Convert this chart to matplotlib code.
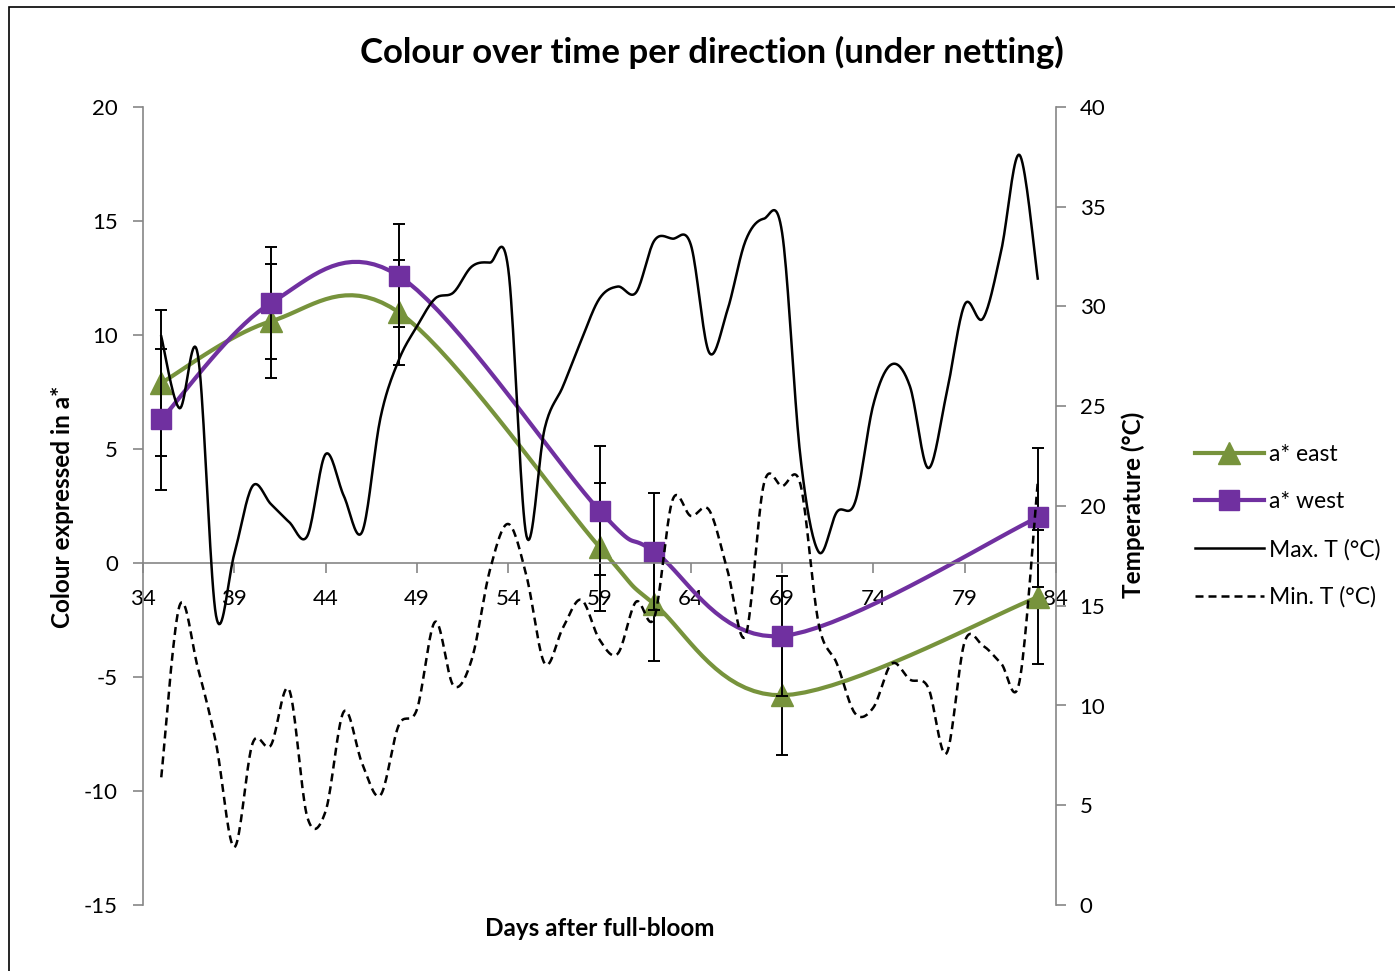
import numpy as np
import matplotlib
matplotlib.use("Agg")
import matplotlib.pyplot as plt
from matplotlib.lines import Line2D
from matplotlib.patches import Rectangle

plt.rcParams['font.family'] = ['Lato', 'DejaVu Sans']
plt.rcParams['axes.unicode_minus'] = False

# colour measurements (a*) per sampling day
days_a = [35, 41, 48, 59, 62, 69, 83]
a_east = [7.9, 10.6, 11.0, 0.7, -1.8, -5.8, -1.5]
a_east_err = [3.2, 2.5, 2.3, 2.8, 2.5, 2.6, 2.95]
a_west = [6.3, 11.4, 12.6, 2.3, 0.5, -3.2, 2.0]
a_west_err = [3.1, 2.45, 2.27, 2.83, 2.58, 2.63, 3.05]

# daily temperatures
days_t = list(range(35, 84))
max_t = [28.5, 24.9, 27.6, 14.5, 17.6, 21.0, 20.1, 19.2, 18.5, 22.6,
         20.5, 18.7, 24.4, 27.3, 29.0, 30.4, 30.7, 32.0, 32.2, 31.9,
         18.5, 23.9, 26.0, 28.3, 30.4, 31.0, 30.7, 33.3, 33.4, 33.1,
         27.7, 29.8, 33.3, 34.4, 33.7, 22.5, 17.7, 19.7, 20.2, 25.1,
         27.1, 26.0, 21.9, 25.6, 30.1, 29.4, 32.8, 37.6, 31.4]
min_t = [6.4, 15.0, 11.9, 8.1, 2.9, 8.1, 8.0, 10.8, 4.4, 4.7,
         9.7, 7.1, 5.5, 9.0, 9.8, 14.2, 11.0, 12.3, 16.8, 19.1,
         16.5, 12.1, 13.9, 15.3, 13.3, 12.6, 15.2, 14.4, 20.3, 19.5,
         19.8, 16.8, 13.5, 21.1, 21.0, 21.1, 14.1, 12.1, 9.6, 9.9,
         12.1, 11.3, 10.9, 7.6, 13.2, 13.0, 12.1, 11.2, 21.2]

x_ticks = list(range(34, 85, 5))
y_ticks = list(range(-15, 21, 5))
t_ticks = list(range(0, 41, 5))

GREEN = '#77933C'
PURPLE = '#7030A0'
GREY = '#868686'


def smooth(x, y, n=20):
    # excel style smoothed line (bezier through the points)
    pts = np.column_stack([x, y]).astype(float)
    p = np.vstack([pts[0], pts, pts[-1]])
    out = []
    t = np.linspace(0, 1, n)[:, None]
    for i in range(1, len(p) - 2):
        p0, p1, p2, p3 = p[i - 1], p[i], p[i + 1], p[i + 2]
        c1 = p1 + (p2 - p0) / 6
        c2 = p2 - (p3 - p1) / 6
        seg = (1 - t)**3 * p1 + 3 * (1 - t)**2 * t * c1 + 3 * (1 - t) * t**2 * c2 + t**3 * p2
        out.append(seg if i == 1 else seg[1:])
    s = np.vstack(out)
    return s[:, 0], s[:, 1]


W, H = 1395, 971
fig = plt.figure(figsize=(W / 100, H / 100), dpi=100)
fig.patches.append(Rectangle((9 / W, -0.1), 1.2, 1 - 7 / H + 0.1, transform=fig.transFigure,
                             fill=False, edgecolor='black', lw=1.2))

ax = fig.add_axes([143 / W, 1 - 905 / H, (1056 - 143) / W, (905 - 107) / H])
ax.set_xlim(34, 84)
ax.set_ylim(-15, 20)
ax.spines['bottom'].set_position(('data', 0))
ax.spines['top'].set_visible(False)
ax.spines['right'].set_visible(False)
for s in ['left', 'bottom']:
    ax.spines[s].set_color(GREY)
    ax.spines[s].set_linewidth(1.2)
ax.set_xticks(x_ticks)
ax.set_yticks(y_ticks)
ax.tick_params(colors=GREY, labelcolor='black', labelsize=16, length=7, width=1.2)
ax.tick_params(axis='y', pad=11)
ax.tick_params(axis='x', pad=12)

# a* series
xs, ys = smooth(days_a, a_east)
ax.plot(xs, ys, color=GREEN, lw=3)
ax.errorbar(days_a, a_east, yerr=a_east_err, fmt='none', ecolor='black',
            elinewidth=1.4, capsize=4.5, capthick=1.4)
ax.plot(days_a, a_east, ls='none', marker='^', ms=16, color=GREEN)
xs, ys = smooth(days_a, a_west)
ax.plot(xs, ys, color=PURPLE, lw=3)
ax.errorbar(days_a, a_west, yerr=a_west_err, fmt='none', ecolor='black',
            elinewidth=1.4, capsize=4.5, capthick=1.4)
ax.plot(days_a, a_west, ls='none', marker='s', ms=15, color=PURPLE)

# temperatures on secondary axis
ax2 = ax.twinx()
ax2.set_ylim(0, 40)
ax2.set_yticks(t_ticks)
for s in ['left', 'top', 'bottom']:
    ax2.spines[s].set_visible(False)
ax2.spines['right'].set_color(GREY)
ax2.spines['right'].set_linewidth(1.2)
ax2.tick_params(colors=GREY, labelcolor='black', labelsize=16, length=7, width=1.2, pad=10)
xs, ys = smooth(days_t, max_t)
ax2.plot(xs, ys, color='black', lw=1.8)
xs, ys = smooth(days_t, min_t)
ax2.plot(xs, ys, color='black', lw=1.8, dashes=(3.2, 2.0))

fig.text(712 / W, 1 - 52 / H, 'Colour over time per direction (under netting)',
         ha='center', va='center', fontsize=25, fontweight='bold')
fig.text(600 / W, 1 - 928 / H, 'Days after full-bloom', ha='center', va='center',
         fontsize=17.5, fontweight='bold')
fig.text(62 / W, 1 - 507 / H, 'Colour expressed in a*', ha='center', va='center',
         rotation=90, fontsize=17.5, fontweight='bold')
fig.text(1133 / W, 1 - 505 / H, 'Temperature (°C)', ha='center', va='center',
         rotation=90, fontsize=17.5, fontweight='bold')

handles = [Line2D([], [], color=GREEN, lw=3, marker='^', ms=16),
           Line2D([], [], color=PURPLE, lw=3, marker='s', ms=15),
           Line2D([], [], color='black', lw=1.8),
           Line2D([], [], color='black', lw=1.8, dashes=(3.2, 2.0))]
labels = ['a* east', 'a* west', 'Max. T (°C)', 'Min. T (°C)']
fig.legend(handles, labels, loc='center left', bbox_to_anchor=(1195 / W, 1 - 526 / H),
           frameon=False, fontsize=16.5, handlelength=3.0, handletextpad=0.25,
           labelspacing=1.15, borderpad=0, borderaxespad=0)

fig.savefig('out.png', dpi=100)
